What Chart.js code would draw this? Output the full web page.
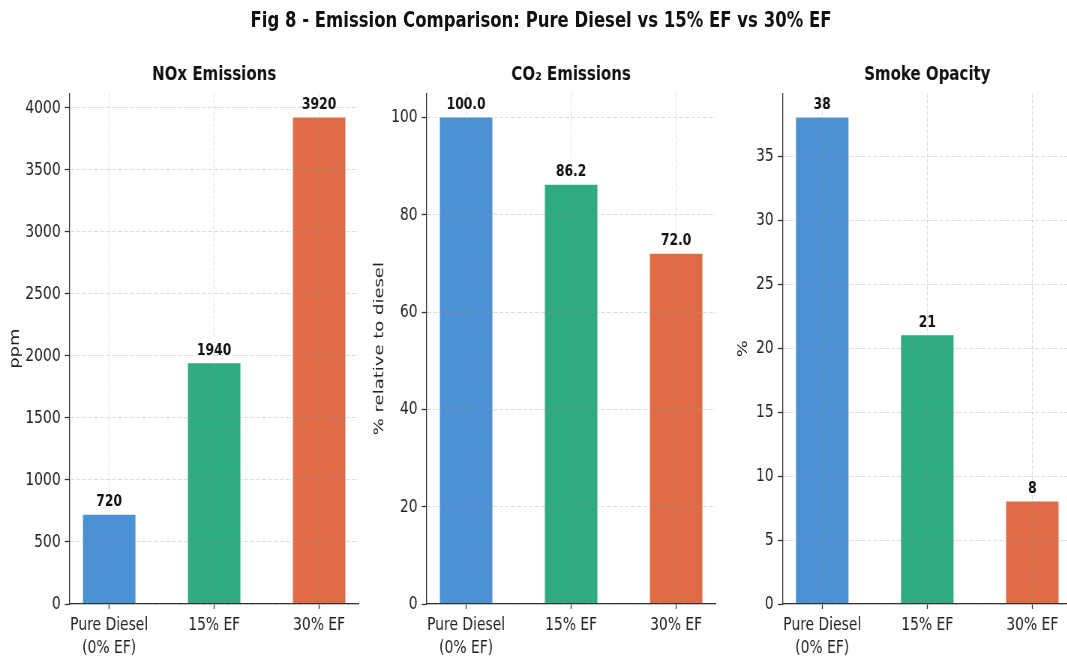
<!DOCTYPE html>
<html>
<head>
<meta charset="utf-8">
<script src="https://cdn.jsdelivr.net/npm/chart.js@4.4.1/dist/chart.umd.min.js"></script>
<style>
  html, body { margin: 0; padding: 0; background: #fff; width: 1067px; height: 664px; overflow: hidden; }
  #figure { position: absolute; left: 0; top: 0; width: 1423px; height: 664px; transform: scaleX(0.75); transform-origin: 0 0; }
  #suptitle { position: absolute; left: 0; top: 5.7px; width: 1442.6px; text-align: center; white-space: nowrap;
              font: bold 22px "DejaVu Sans"; line-height: 28px; color: #111; }
  canvas { position: absolute; top: 0; }
</style>
</head>
<body>
<div id="figure">
  <div id="suptitle">Fig 8 - Emission Comparison: Pure Diesel vs 15% EF vs 30% EF</div>
  <canvas id="nox" width="474" height="664" style="left:8px"></canvas>
  <canvas id="co2" width="464" height="664" style="left:494px"></canvas>
  <canvas id="smoke" width="454" height="664" style="left:979px"></canvas>
</div>
<script>
// Fuel blends compared in every panel
const categories = [['Pure Diesel', '(0% EF)'], '15% EF', '30% EF'];

// Measured emissions per blend
const noxPpm = [720, 1940, 3920];
const co2Relative = [100.0, 86.2, 72.0];
const smokeOpacity = [38, 21, 8];

// Y-axis tick values
const noxTicks = [0, 500, 1000, 1500, 2000, 2500, 3000, 3500, 4000];
const co2Ticks = [0, 20, 40, 60, 80, 100];
const smokeTicks = [0, 5, 10, 15, 20, 25, 30, 35];

const barColors = ['#4b91d3', '#2eab82', '#e06c47'];
const gridColor = 'rgba(150,150,150,0.33)';
const axisColor = '#333';
const textColor = '#222';

Chart.defaults.font.family = '"DejaVu Sans"';

// Bold value printed above each bar
const valueLabels = {
  id: 'valueLabels',
  afterDraw(chart, args, opts) {
    const ctx = chart.ctx;
    const ds = chart.data.datasets[0];
    const meta = chart.getDatasetMeta(0);
    ctx.save();
    ctx.font = 'bold 16.5px "DejaVu Sans"';
    ctx.fillStyle = '#111';
    ctx.textAlign = 'center';
    ctx.textBaseline = 'alphabetic';
    meta.data.forEach((bar, i) => {
      ctx.fillText(ds.data[i].y.toFixed(opts.decimals), bar.x, bar.y - 8.5);
    });
    ctx.restore();
  }
};

function makePanel(id, title, yTitle, values, tickValues, decimals, axisWidth) {
  const ymax = Math.max(...values) * 1.05;
  return new Chart(document.getElementById(id), {
    type: 'bar',
    data: {
      datasets: [{
        data: values.map((v, i) => ({ x: i, y: v })),
        backgroundColor: barColors,
        borderWidth: 0,
        categoryPercentage: 1,
        barPercentage: 0.5
      }]
    },
    options: {
      responsive: false,
      animation: false,
      devicePixelRatio: 1,
      layout: { padding: { top: 0, left: 0, right: 4, bottom: 0 } },
      plugins: {
        legend: { display: false },
        tooltip: { enabled: false },
        title: {
          display: true, text: title, fullSize: false, color: '#111',
          font: { size: 20, weight: 'bold' },
          padding: { top: 62.5, bottom: 6.8 }
        },
        valueLabels: { decimals: decimals }
      },
      scales: {
        x: {
          type: 'linear', min: -0.375, max: 2.375, offset: false,
          afterBuildTicks: s => { s.ticks = categories.map((c, i) => ({ value: i })); },
          afterFit: s => { s.height = 60; },
          ticks: {
            autoSkip: false, maxRotation: 0, minRotation: 0, padding: 4.9,
            color: textColor, font: { size: 18.5, lineHeight: 1.25 },
            callback: v => categories[v]
          },
          grid: {
            display: true, offset: false, color: gridColor, lineWidth: 1,
            drawTicks: true, tickLength: 5, tickColor: axisColor, tickWidth: 1.3,
            tickBorderDash: [], z: 1
          },
          border: { display: true, color: axisColor, width: 1.3, dash: [4, 2], z: 1 }
        },
        y: {
          type: 'linear', min: 0, max: ymax,
          afterBuildTicks: s => { s.ticks = tickValues.map(v => ({ value: v })); },
          afterFit: s => { s.width = axisWidth; },
          ticks: {
            autoSkip: false, padding: 5.5, color: textColor, font: { size: 18.5 },
            callback: v => String(v)
          },
          grid: {
            color: gridColor, lineWidth: 1, drawTicks: true, tickLength: 6.7,
            tickColor: axisColor, tickWidth: 1.3, tickBorderDash: [], z: 1
          },
          border: { display: true, color: axisColor, width: 1.3, dash: [5.5, 2.5], z: 1 },
          title: {
            display: true, text: yTitle, color: textColor,
            font: { size: 18 }, padding: { top: 2, bottom: 0 }
          }
        }
      }
    },
    plugins: [valueLabels]
  });
}

makePanel('nox', 'NOx Emissions', 'ppm', noxPpm, noxTicks, 0, 85.1);
makePanel('co2', 'CO₂ Emissions', '% relative to diesel', co2Relative, co2Ticks, 1, 75);
makePanel('smoke', 'Smoke Opacity', '%', smokeOpacity, smokeTicks, 0, 64.8);
</script>
</body>
</html>
